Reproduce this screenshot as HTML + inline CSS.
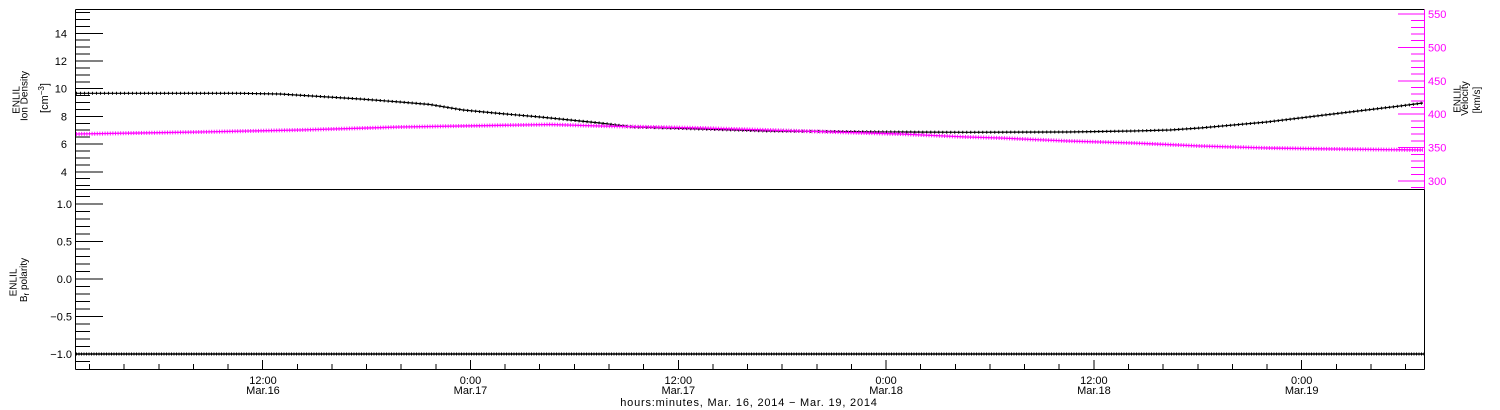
<!DOCTYPE html>
<html>
<head>
<meta charset="utf-8">
<style>
  html, body { margin:0; padding:0; background:#fff; }
  svg { display:block; }
  text { font-family: "Liberation Sans", "DejaVu Sans", sans-serif; }
</style>
</head>
<body>
<svg width="1500" height="410" viewBox="0 0 1500 410" xmlns="http://www.w3.org/2000/svg">
  <rect x="0" y="0" width="1500" height="410" fill="#fff"/>

  <!-- Frames -->
  <g stroke="#000" stroke-width="1" fill="none" shape-rendering="crispEdges">
    <line x1="75.5" y1="9.5" x2="1424.5" y2="9.5"/>
    <line x1="75.5" y1="9.5" x2="75.5" y2="369.5"/>
    <line x1="75.5" y1="189.5" x2="1424.5" y2="189.5"/>
    <line x1="75.5" y1="369.5" x2="1424.5" y2="369.5"/>
    <line x1="1424.5" y1="189.5" x2="1424.5" y2="369.5"/>
  </g>
  <line x1="1424.5" y1="9.5" x2="1424.5" y2="189.5" stroke="#ff00ff" stroke-width="1" shape-rendering="crispEdges"/>

  <!-- Plot 1 left ticks -->
  <g stroke="#000" stroke-width="1" shape-rendering="crispEdges">
    <line x1="75" x2="90" y1="12.5" y2="12.5"/>
    <line x1="75" x2="90" y1="19.4" y2="19.4"/>
    <line x1="75" x2="90" y1="26.4" y2="26.4"/>
    <line x1="75" x2="103" y1="33.3" y2="33.3"/>
    <line x1="75" x2="90" y1="40.2" y2="40.2"/>
    <line x1="75" x2="90" y1="47.2" y2="47.2"/>
    <line x1="75" x2="90" y1="54.1" y2="54.1"/>
    <line x1="75" x2="103" y1="61.0" y2="61.0"/>
    <line x1="75" x2="90" y1="67.9" y2="67.9"/>
    <line x1="75" x2="90" y1="74.8" y2="74.8"/>
    <line x1="75" x2="90" y1="81.8" y2="81.8"/>
    <line x1="75" x2="103" y1="88.7" y2="88.7"/>
    <line x1="75" x2="90" y1="95.6" y2="95.6"/>
    <line x1="75" x2="90" y1="102.6" y2="102.6"/>
    <line x1="75" x2="90" y1="109.5" y2="109.5"/>
    <line x1="75" x2="103" y1="116.4" y2="116.4"/>
    <line x1="75" x2="90" y1="123.3" y2="123.3"/>
    <line x1="75" x2="90" y1="130.2" y2="130.2"/>
    <line x1="75" x2="90" y1="137.2" y2="137.2"/>
    <line x1="75" x2="103" y1="144.1" y2="144.1"/>
    <line x1="75" x2="90" y1="151.0" y2="151.0"/>
    <line x1="75" x2="90" y1="158.0" y2="158.0"/>
    <line x1="75" x2="90" y1="164.9" y2="164.9"/>
    <line x1="75" x2="103" y1="171.8" y2="171.8"/>
    <line x1="75" x2="90" y1="178.7" y2="178.7"/>
    <line x1="75" x2="90" y1="185.6" y2="185.6"/>
  </g>
  <g font-size="11" text-anchor="end" fill="#000">
    <text x="67" y="37.3">14</text>
    <text x="67" y="65">12</text>
    <text x="67" y="92.7">10</text>
    <text x="67" y="120.4">8</text>
    <text x="67" y="148.1">6</text>
    <text x="67" y="175.8">4</text>
  </g>

  <!-- Plot 2 left ticks -->
  <g stroke="#000" stroke-width="1" shape-rendering="crispEdges">
    <line x1="75" x2="90" y1="196.5" y2="196.5"/>
    <line x1="75" x2="103" y1="204" y2="204"/>
    <line x1="75" x2="90" y1="211.5" y2="211.5"/>
    <line x1="75" x2="90" y1="219" y2="219"/>
    <line x1="75" x2="90" y1="226.5" y2="226.5"/>
    <line x1="75" x2="90" y1="234" y2="234"/>
    <line x1="75" x2="103" y1="241.5" y2="241.5"/>
    <line x1="75" x2="90" y1="249" y2="249"/>
    <line x1="75" x2="90" y1="256.5" y2="256.5"/>
    <line x1="75" x2="90" y1="264" y2="264"/>
    <line x1="75" x2="90" y1="271.5" y2="271.5"/>
    <line x1="75" x2="103" y1="279" y2="279"/>
    <line x1="75" x2="90" y1="286.5" y2="286.5"/>
    <line x1="75" x2="90" y1="294" y2="294"/>
    <line x1="75" x2="90" y1="301.5" y2="301.5"/>
    <line x1="75" x2="90" y1="309" y2="309"/>
    <line x1="75" x2="103" y1="316.5" y2="316.5"/>
    <line x1="75" x2="90" y1="324" y2="324"/>
    <line x1="75" x2="90" y1="331.5" y2="331.5"/>
    <line x1="75" x2="90" y1="339" y2="339"/>
    <line x1="75" x2="90" y1="346.5" y2="346.5"/>
    <line x1="75" x2="103" y1="354" y2="354"/>
    <line x1="75" x2="90" y1="361.5" y2="361.5"/>
  </g>
  <g font-size="11" text-anchor="end" fill="#000">
    <text x="72" y="208">1.0</text>
    <text x="72" y="245.5">0.5</text>
    <text x="72" y="283">0.0</text>
    <text x="72" y="320.5">−0.5</text>
    <text x="72" y="358">−1.0</text>
  </g>

  <!-- Right axis (velocity) -->
  <g stroke="#ff00ff" stroke-width="1" shape-rendering="crispEdges">
    <line x1="1398" x2="1424" y1="14" y2="14"/>
    <line x1="1411" x2="1424" y1="20.7" y2="20.7"/>
    <line x1="1411" x2="1424" y1="27.4" y2="27.4"/>
    <line x1="1411" x2="1424" y1="34.0" y2="34.0"/>
    <line x1="1411" x2="1424" y1="40.7" y2="40.7"/>
    <line x1="1398" x2="1424" y1="47.4" y2="47.4"/>
    <line x1="1411" x2="1424" y1="54.1" y2="54.1"/>
    <line x1="1411" x2="1424" y1="60.8" y2="60.8"/>
    <line x1="1411" x2="1424" y1="67.4" y2="67.4"/>
    <line x1="1411" x2="1424" y1="74.1" y2="74.1"/>
    <line x1="1398" x2="1424" y1="80.8" y2="80.8"/>
    <line x1="1411" x2="1424" y1="87.5" y2="87.5"/>
    <line x1="1411" x2="1424" y1="94.2" y2="94.2"/>
    <line x1="1411" x2="1424" y1="100.8" y2="100.8"/>
    <line x1="1411" x2="1424" y1="107.5" y2="107.5"/>
    <line x1="1398" x2="1424" y1="114.2" y2="114.2"/>
    <line x1="1411" x2="1424" y1="120.9" y2="120.9"/>
    <line x1="1411" x2="1424" y1="127.6" y2="127.6"/>
    <line x1="1411" x2="1424" y1="134.2" y2="134.2"/>
    <line x1="1411" x2="1424" y1="140.9" y2="140.9"/>
    <line x1="1398" x2="1424" y1="147.6" y2="147.6"/>
    <line x1="1411" x2="1424" y1="154.3" y2="154.3"/>
    <line x1="1411" x2="1424" y1="160.9" y2="160.9"/>
    <line x1="1411" x2="1424" y1="167.6" y2="167.6"/>
    <line x1="1411" x2="1424" y1="174.3" y2="174.3"/>
    <line x1="1398" x2="1424" y1="181" y2="181"/>
    <line x1="1411" x2="1424" y1="187.7" y2="187.7"/>
  </g>
  <g font-size="11" text-anchor="start" fill="#ff00ff">
    <text x="1428" y="18">550</text>
    <text x="1428" y="51.4">500</text>
    <text x="1428" y="84.8">450</text>
    <text x="1428" y="118.2">400</text>
    <text x="1428" y="151.6">350</text>
    <text x="1428" y="185">300</text>
  </g>

  <!-- Bottom x ticks -->
  <g stroke="#000" stroke-width="1" shape-rendering="crispEdges">
    <line x1="89.5" x2="89.5" y1="364" y2="369"/>
    <line x1="124.2" x2="124.2" y1="364" y2="369"/>
    <line x1="158.8" x2="158.8" y1="364" y2="369"/>
    <line x1="193.4" x2="193.4" y1="364" y2="369"/>
    <line x1="228.1" x2="228.1" y1="364" y2="369"/>
    <line x1="262.7" x2="262.7" y1="360" y2="369"/>
    <line x1="297.3" x2="297.3" y1="364" y2="369"/>
    <line x1="331.9" x2="331.9" y1="364" y2="369"/>
    <line x1="366.6" x2="366.6" y1="364" y2="369"/>
    <line x1="401.2" x2="401.2" y1="364" y2="369"/>
    <line x1="435.8" x2="435.8" y1="364" y2="369"/>
    <line x1="470.5" x2="470.5" y1="360" y2="369"/>
    <line x1="505.1" x2="505.1" y1="364" y2="369"/>
    <line x1="539.7" x2="539.7" y1="364" y2="369"/>
    <line x1="574.4" x2="574.4" y1="364" y2="369"/>
    <line x1="609.0" x2="609.0" y1="364" y2="369"/>
    <line x1="643.6" x2="643.6" y1="364" y2="369"/>
    <line x1="678.3" x2="678.3" y1="360" y2="369"/>
    <line x1="712.9" x2="712.9" y1="364" y2="369"/>
    <line x1="747.5" x2="747.5" y1="364" y2="369"/>
    <line x1="782.2" x2="782.2" y1="364" y2="369"/>
    <line x1="816.8" x2="816.8" y1="364" y2="369"/>
    <line x1="851.4" x2="851.4" y1="364" y2="369"/>
    <line x1="886.1" x2="886.1" y1="360" y2="369"/>
    <line x1="920.7" x2="920.7" y1="364" y2="369"/>
    <line x1="955.3" x2="955.3" y1="364" y2="369"/>
    <line x1="990.0" x2="990.0" y1="364" y2="369"/>
    <line x1="1024.6" x2="1024.6" y1="364" y2="369"/>
    <line x1="1059.2" x2="1059.2" y1="364" y2="369"/>
    <line x1="1093.9" x2="1093.9" y1="360" y2="369"/>
    <line x1="1128.5" x2="1128.5" y1="364" y2="369"/>
    <line x1="1163.1" x2="1163.1" y1="364" y2="369"/>
    <line x1="1197.8" x2="1197.8" y1="364" y2="369"/>
    <line x1="1232.4" x2="1232.4" y1="364" y2="369"/>
    <line x1="1267.0" x2="1267.0" y1="364" y2="369"/>
    <line x1="1301.7" x2="1301.7" y1="360" y2="369"/>
    <line x1="1336.3" x2="1336.3" y1="364" y2="369"/>
    <line x1="1370.9" x2="1370.9" y1="364" y2="369"/>
    <line x1="1405.6" x2="1405.6" y1="364" y2="369"/>
  </g>
  <g font-size="11" text-anchor="middle" fill="#000">
    <text x="263" y="384">12:00</text><text x="263" y="394">Mar.16</text>
    <text x="470.5" y="384">0:00</text><text x="470.5" y="394">Mar.17</text>
    <text x="678.3" y="384">12:00</text><text x="678.3" y="394">Mar.17</text>
    <text x="886.1" y="384">0:00</text><text x="886.1" y="394">Mar.18</text>
    <text x="1093.9" y="384">12:00</text><text x="1093.9" y="394">Mar.18</text>
    <text x="1301.7" y="384">0:00</text><text x="1301.7" y="394">Mar.19</text>
    <text x="749" y="406" letter-spacing="0.8">hours:minutes, Mar. 16, 2014 − Mar. 19, 2014</text>
  </g>

  <!-- Axis titles -->
  <g font-size="10" text-anchor="middle" fill="#000">
    <text transform="translate(19.5,100) rotate(-90)">ENLIL</text>
    <text transform="translate(27.5,96) rotate(-90)">Ion Density</text>
    <text transform="translate(48,98) rotate(-90)" font-size="11">[cm<tspan font-size="8" dy="-4">−3</tspan><tspan dy="4">]</tspan></text>

    <text transform="translate(16.5,282.5) rotate(-90)">ENLIL</text>
    <text transform="translate(27,280) rotate(-90)">B<tspan font-size="8" dy="2">r</tspan><tspan dy="-2"> polarity</tspan></text>

    <text transform="translate(1460.5,99) rotate(-90)">ENLIL</text>
    <text transform="translate(1468,98.5) rotate(-90)">Velocity</text>
    <text transform="translate(1480,100) rotate(-90)">[km/s]</text>
  </g>

  <!-- Density series (black) -->
  <g fill="none" stroke="#000">
    <polyline stroke-width="1.2" points="76,93.3 240,93.3 280,94 320,96.5 360,99 400,102 430,104.5 463,110 500,113.5 540,117 600,123 633,127 700,129 767,131 833,131.5 900,132 967,132.3 1067,132 1133,131 1170,130 1200,128 1267,122 1333,114 1400,106 1423,103"/>
    <polyline stroke-width="3" stroke-dasharray="1 3" points="76,93.3 240,93.3 280,94 320,96.5 360,99 400,102 430,104.5 463,110 500,113.5 540,117 600,123 633,127 700,129 767,131 833,131.5 900,132 967,132.3 1067,132 1133,131 1170,130 1200,128 1267,122 1333,114 1400,106 1423,103"/>
  </g>

  <!-- Velocity series (magenta) -->
  <g fill="none" stroke="#ff00ff">
    <polyline stroke-width="1.3" points="76,134 200,132 300,130 400,127 480,125.7 550,124.5 600,126 700,128 767,130 833,132 900,134 967,137 1000,138 1067,141 1133,143 1200,146 1267,148 1333,149 1423,150"/>
    <polyline stroke-width="4" stroke-dasharray="1 1.6" opacity="0.9" points="76,134 200,132 300,130 400,127 480,125.7 550,124.5 600,126 700,128 767,130 833,132 900,134 967,137 1000,138 1067,141 1133,143 1200,146 1267,148 1333,149 1423,150"/>
  </g>

  <!-- Br polarity series -->
  <g fill="none" stroke="#000">
    <line x1="76" y1="354" x2="1424" y2="354" stroke-width="1.5"/>
    <line x1="76" y1="354" x2="1424" y2="354" stroke-width="3" stroke-dasharray="1 1.5"/>
  </g>
</svg>
</body>
</html>
